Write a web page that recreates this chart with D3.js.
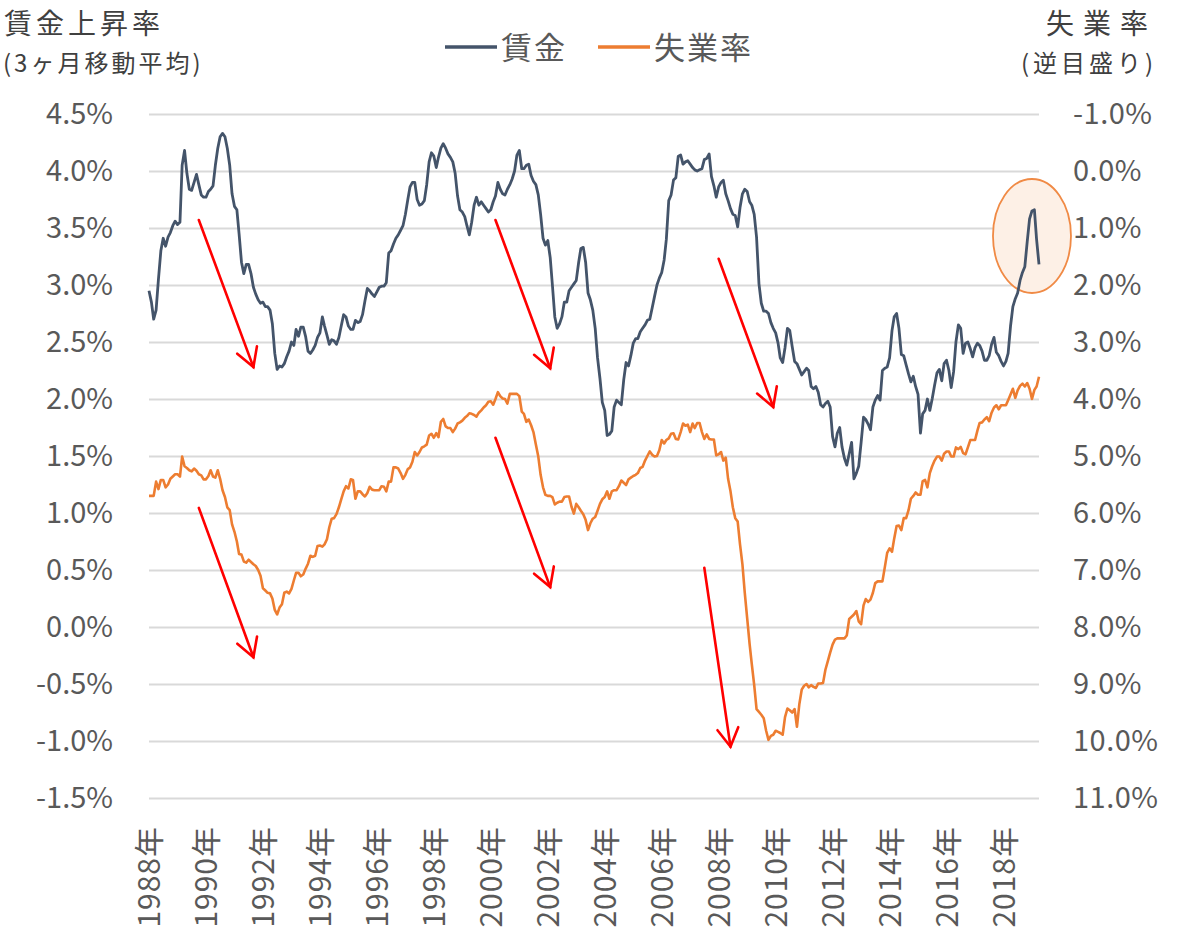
<!DOCTYPE html>
<html>
<head>
<meta charset="utf-8">
<script src="https://cdn.jsdelivr.net/npm/d3@7"></script>
<style>
  body { margin: 0; background: #fff; }
  text { font-family: "Noto Sans CJK JP", "Noto Sans", sans-serif; }
</style>
</head>
<body>
<svg id="chart" width="1200" height="943"></svg>
<script>
// monthly series, Jan 1988 .. Apr 2019
var firstMonth = "1988-01";

// wage growth, 3 month moving average (%), left axis
var wage = [
  2.95,2.85,2.70,2.78,3.05,3.30,3.41,3.34,3.42,3.46,3.52,3.56, // 1988
  3.53,3.55,4.05,4.18,3.98,3.84,3.83,3.90,3.97,3.88,3.79,3.77, // 1989
  3.77,3.82,3.84,3.87,4.05,4.20,4.30,4.33,4.30,4.20,4.05,3.80, // 1990
  3.69,3.66,3.45,3.20,3.10,3.18,3.18,3.10,2.98,2.92,2.87,2.84, // 1991
  2.85,2.81,2.81,2.78,2.66,2.40,2.26,2.29,2.28,2.31,2.37,2.42, // 1992
  2.50,2.47,2.61,2.55,2.63,2.63,2.55,2.42,2.40,2.43,2.47,2.54, // 1993
  2.58,2.72,2.64,2.56,2.48,2.52,2.51,2.48,2.54,2.64,2.74,2.72, // 1994
  2.64,2.61,2.61,2.69,2.67,2.68,2.74,2.86,2.97,2.95,2.92,2.90, // 1995
  2.94,2.98,2.99,2.99,3.02,3.28,3.30,3.36,3.41,3.44,3.48,3.52, // 1996
  3.62,3.75,3.86,3.90,3.90,3.75,3.70,3.71,3.74,3.88,4.08,4.16, // 1997
  4.13,4.03,4.12,4.20,4.24,4.20,4.15,4.12,4.08,3.98,3.78,3.66, // 1998
  3.64,3.60,3.52,3.44,3.55,3.70,3.77,3.70,3.73,3.70,3.67,3.64, // 1999
  3.66,3.73,3.78,3.90,3.84,3.80,3.79,3.84,3.88,3.93,4.00,4.14, // 2000
  4.18,4.02,4.02,4.05,4.06,3.96,3.91,3.88,3.79,3.62,3.41,3.35, // 2001
  3.39,3.24,3.00,2.72,2.62,2.66,2.72,2.85,2.85,2.95,2.98,3.01, // 2002
  3.04,3.20,3.32,3.33,3.20,2.93,2.87,2.78,2.62,2.36,2.18,1.97, // 2003
  1.90,1.68,1.69,1.72,1.93,1.99,1.97,1.95,2.17,2.32,2.29,2.38, // 2004
  2.49,2.53,2.53,2.59,2.62,2.65,2.69,2.70,2.80,2.90,3.00,3.06, // 2005
  3.11,3.22,3.40,3.74,3.79,3.92,3.94,4.13,4.14,4.06,4.08,4.09, // 2006
  4.06,4.03,4.01,4.00,4.01,4.02,4.10,4.11,4.15,3.95,3.87,3.77, // 2007
  3.86,3.90,3.92,3.80,3.74,3.67,3.62,3.61,3.51,3.68,3.80,3.84, // 2008
  3.82,3.73,3.70,3.62,3.42,3.01,2.84,2.77,2.77,2.75,2.67,2.62, // 2009
  2.58,2.49,2.36,2.32,2.45,2.62,2.60,2.46,2.33,2.31,2.26,2.21, // 2010
  2.24,2.27,2.25,2.11,2.09,2.11,2.06,1.95,1.93,1.96,1.98,1.93, // 2011
  1.67,1.58,1.70,1.75,1.58,1.48,1.42,1.52,1.62,1.30,1.35,1.41, // 2012
  1.62,1.84,1.82,1.78,1.73,1.93,1.99,2.03,1.99,2.25,2.27,2.28, // 2013
  2.36,2.60,2.72,2.75,2.62,2.39,2.38,2.30,2.22,2.15,2.20,2.11, // 2014
  2.04,1.70,1.87,1.90,2.00,1.90,2.00,2.12,2.23,2.26,2.16,2.31, // 2015
  2.34,2.25,2.10,2.24,2.50,2.65,2.62,2.40,2.49,2.50,2.44,2.37, // 2016
  2.45,2.49,2.47,2.42,2.34,2.34,2.38,2.48,2.54,2.41,2.38,2.33, // 2017
  2.29,2.33,2.40,2.64,2.81,2.88,2.93,3.04,3.11,3.16,3.38,3.58, // 2018
  3.65,3.66,3.40,3.18                                           // 2019
];

// unemployment rate (%), right axis, inverted
var unemp = [
  5.70,5.70,5.70,5.45,5.58,5.42,5.42,5.55,5.50,5.40,5.36,5.32, // 1988
  5.32,5.36,5.01,5.18,5.21,5.25,5.27,5.22,5.26,5.32,5.34,5.41, // 1989
  5.41,5.35,5.25,5.36,5.38,5.25,5.40,5.60,5.72,5.90,5.95,6.20, // 1990
  6.33,6.50,6.72,6.73,6.85,6.87,6.82,6.86,6.90,6.93,7.00,7.10, // 1991
  7.32,7.36,7.40,7.41,7.50,7.70,7.78,7.66,7.60,7.40,7.38,7.41, // 1992
  7.33,7.18,7.05,7.05,7.11,7.08,6.98,6.89,6.75,6.77,6.75,6.58, // 1993
  6.57,6.59,6.55,6.46,6.25,6.10,6.09,6.02,5.90,5.76,5.62,5.53, // 1994
  5.57,5.41,5.42,5.75,5.62,5.62,5.67,5.71,5.65,5.54,5.59,5.60, // 1995
  5.60,5.60,5.53,5.54,5.62,5.45,5.45,5.20,5.20,5.22,5.30,5.40, // 1996
  5.33,5.23,5.20,5.10,4.93,4.99,4.93,4.85,4.83,4.80,4.64,4.61, // 1997
  4.68,4.60,4.67,4.40,4.35,4.48,4.51,4.51,4.58,4.52,4.43,4.41, // 1998
  4.38,4.33,4.30,4.25,4.26,4.28,4.31,4.24,4.20,4.15,4.11,4.05, // 1999
  4.04,4.10,4.00,3.88,3.95,3.99,4.00,4.08,3.91,3.91,3.91,3.91, // 2000
  3.95,4.22,4.26,4.40,4.36,4.46,4.58,4.80,5.01,5.33,5.55,5.68, // 2001
  5.70,5.70,5.72,5.85,5.82,5.80,5.80,5.72,5.71,5.71,5.89,6.01, // 2002
  5.84,5.90,5.96,6.02,6.12,6.30,6.18,6.10,6.07,5.96,5.84,5.76, // 2003
  5.72,5.62,5.75,5.62,5.60,5.60,5.53,5.43,5.47,5.51,5.41,5.38, // 2004
  5.35,5.33,5.30,5.21,5.19,5.08,5.00,4.92,4.98,5.01,5.00,4.90, // 2005
  4.72,4.78,4.72,4.69,4.61,4.60,4.70,4.71,4.58,4.43,4.47,4.45, // 2006
  4.58,4.43,4.51,4.42,4.42,4.58,4.70,4.62,4.70,4.71,4.71,4.99, // 2007
  4.97,4.93,5.08,5.03,5.40,5.62,5.90,6.09,6.15,6.55,6.90,7.40, // 2008
  7.85,8.30,8.65,9.02,9.44,9.49,9.54,9.60,9.82,9.98,9.91,9.89, // 2009
  9.82,9.84,9.86,9.89,9.58,9.43,9.46,9.50,9.44,9.75,9.35,9.10, // 2010
  9.03,9.00,9.06,9.02,9.05,9.07,8.99,8.99,8.98,8.75,8.60,8.45, // 2011
  8.31,8.22,8.20,8.20,8.20,8.20,8.15,7.86,7.82,7.78,7.72,7.90, // 2012
  7.95,7.62,7.51,7.56,7.52,7.40,7.23,7.20,7.20,7.20,6.95,6.70, // 2013
  6.62,6.68,6.45,6.23,6.22,6.30,6.09,6.09,5.95,5.75,5.70,5.64, // 2014
  5.68,5.68,5.44,5.42,5.55,5.30,5.18,5.08,5.01,5.01,5.08,4.96, // 2015
  4.92,4.92,5.01,5.01,4.85,4.88,4.84,4.95,4.97,4.85,4.72,4.72, // 2016
  4.72,4.55,4.42,4.41,4.36,4.32,4.39,4.24,4.15,4.11,4.18,4.11, // 2017
  4.11,4.11,4.02,3.92,3.82,3.98,3.85,3.77,3.73,3.78,3.72,3.82, // 2018
  4.00,3.84,3.78,3.61                                           // 2019
];

var leftTicks = [-1.5, -1.0, -0.5, 0.0, 0.5, 1.0, 1.5, 2.0, 2.5, 3.0, 3.5, 4.0, 4.5];
var rightTicks = [-1, 0, 1, 2, 3, 4, 5, 6, 7, 8, 9, 10, 11];
var yearTicks = ["1988","1990","1992","1994","1996","1998","2000","2002","2004","2006","2008","2010","2012","2014","2016","2018"];

// red arrows: [from month, from value, to month, to value]
var wageArrows = [
  ["1989-10", 3.57, "1991-09", 2.28],
  ["2000-03", 3.57, "2002-02", 2.27],
  ["2008-01", 3.23, "2009-12", 1.93]
];
var unempArrows = [
  ["1989-10", 5.91, "1991-09", 8.53],
  ["2000-03", 4.68, "2002-02", 7.30],
  ["2007-07", 6.96, "2008-06", 10.1]
];
// highlighted recent wage jump: [month, value]
var highlight = ["2019-01", 3.43];

var svg = d3.select("#chart"),
    margin = {top: 114, right: 161, bottom: 145, left: 149},
    width = +svg.attr("width") - margin.left - margin.right,
    height = +svg.attr("height") - margin.top - margin.bottom;
var g = svg.append("g").attr("transform", "translate(" + margin.left + "," + margin.top + ")");

var parseMonth = d3.timeParse("%Y-%m");
var start = parseMonth(firstMonth);
function monthAt(i) { return d3.timeMonth.offset(start, i); }

var x = d3.scaleTime().domain([start, monthAt(wage.length - 1)]).range([0, width]);
var yL = d3.scaleLinear().domain([-1.5, 4.5]).range([height, 0]);
var yR = d3.scaleLinear().domain([11, -1]).range([height, 0]);

var textGrey = "#595959";

// gridlines
g.append("g")
  .attr("class", "grid")
  .call(d3.axisLeft(yL).tickValues(leftTicks).tickSize(-width).tickFormat(""))
  .call(function(s) { s.select(".domain").remove(); })
  .selectAll("line")
  .attr("stroke", "#d9d9d9")
  .attr("stroke-width", 2);

// left axis labels
g.append("g")
  .call(d3.axisLeft(yL).tickValues(leftTicks).tickSize(0).tickPadding(36)
    .tickFormat(function(d) { return d.toFixed(1) + "%"; }))
  .call(function(s) { s.select(".domain").remove(); })
  .selectAll("text")
  .style("font-size", "29px")
  .style("fill", textGrey)
  .style("font-family", '"Noto Sans CJK JP", sans-serif');

// right axis labels
g.append("g")
  .attr("transform", "translate(" + width + ",0)")
  .call(d3.axisRight(yR).tickValues(rightTicks).tickSize(0).tickPadding(34)
    .tickFormat(function(d) { return d.toFixed(1) + "%"; }))
  .call(function(s) { s.select(".domain").remove(); })
  .selectAll("text")
  .style("font-size", "29px")
  .style("letter-spacing", "0.5px")
  .style("fill", textGrey)
  .style("font-family", '"Noto Sans CJK JP", sans-serif');

// x axis, rotated year labels
g.append("g")
  .attr("transform", "translate(0," + height + ")")
  .call(d3.axisBottom(x).tickValues(yearTicks.map(function(y) { return parseMonth(y + "-01"); }))
    .tickSize(0).tickFormat(function(d) { return d.getFullYear() + "年"; }))
  .call(function(s) { s.select(".domain").remove(); })
  .selectAll("text")
  .attr("transform", "rotate(-90)")
  .attr("x", -28)
  .attr("y", 0)
  .attr("dy", "0.36em")
  .style("text-anchor", "end")
  .style("font-size", "30px")
  .style("letter-spacing", "1px")
  .style("fill", textGrey)
  .style("font-family", '"Noto Sans CJK JP", sans-serif');

// highlight ellipse (behind lines)
g.append("ellipse")
  .attr("cx", x(parseMonth(highlight[0])))
  .attr("cy", yL(highlight[1]))
  .attr("rx", 39)
  .attr("ry", 57)
  .style("fill", "#fdf0e6")
  .style("stroke", "#f08a45")
  .style("stroke-width", 1.8);

// lines
var wageLine = d3.line()
  .x(function(d, i) { return x(monthAt(i)); })
  .y(function(d) { return yL(d); });
var unempLine = d3.line()
  .x(function(d, i) { return x(monthAt(i)); })
  .y(function(d) { return yR(d); });

g.append("path")
  .datum(unemp)
  .attr("d", unempLine)
  .style("fill", "none")
  .style("stroke", "#ed7d31")
  .style("stroke-width", 2.6)
  .style("stroke-linejoin", "round");

g.append("path")
  .datum(wage)
  .attr("d", wageLine)
  .style("fill", "none")
  .style("stroke", "#44546a")
  .style("stroke-width", 2.8)
  .style("stroke-linejoin", "round");

// red arrows
function drawArrow(a, yScale) {
  var x1 = x(parseMonth(a[0])), y1 = yScale(a[1]),
      x2 = x(parseMonth(a[2])), y2 = yScale(a[3]);
  var ang = Math.atan2(y1 - y2, x1 - x2), len = 21, spread = Math.PI / 6;
  var arrow = g.append("g")
    .style("stroke", "#ff0000")
    .style("stroke-width", 2.6)
    .style("fill", "none")
    .style("stroke-linecap", "round");
  arrow.append("line").attr("x1", x1).attr("y1", y1).attr("x2", x2).attr("y2", y2);
  arrow.append("path")
    .attr("d", "M" + (x2 + len * Math.cos(ang - spread)) + "," + (y2 + len * Math.sin(ang - spread)) +
      "L" + x2 + "," + y2 +
      "L" + (x2 + len * Math.cos(ang + spread)) + "," + (y2 + len * Math.sin(ang + spread)));
}
wageArrows.forEach(function(a) { drawArrow(a, yL); });
unempArrows.forEach(function(a) { drawArrow(a, yR); });

// titles
svg.append("text")
  .attr("x", 4).attr("y", 34)
  .style("font-size", "28px").style("letter-spacing", "4px").style("fill", "#404040")
  .text("賃金上昇率");
svg.append("text")
  .attr("x", 3).attr("y", 72)
  .style("font-size", "24px").style("letter-spacing", "3px").style("fill", "#404040")
  .text("(3ヶ月移動平均)");
svg.append("text")
  .attr("x", 1046).attr("y", 34)
  .style("font-size", "28px").style("letter-spacing", "9px").style("fill", "#404040")
  .text("失業率");
svg.append("text")
  .attr("x", 1021).attr("y", 72)
  .style("font-size", "24px").style("letter-spacing", "4px").style("fill", "#404040")
  .text("(逆目盛り)");

// legend
var legendItems = [
  {label: "賃金", color: "#44546a", x: 445},
  {label: "失業率", color: "#ed7d31", x: 598}
];
var legend = svg.append("g");
legendItems.forEach(function(d) {
  legend.append("line")
    .attr("x1", d.x).attr("x2", d.x + 52)
    .attr("y1", 47).attr("y2", 47)
    .style("stroke", d.color)
    .style("stroke-width", 3.5);
  legend.append("text")
    .attr("x", d.x + 56).attr("y", 59)
    .style("font-size", "31px").style("letter-spacing", "2px").style("fill", textGrey)
    .text(d.label);
});
</script>
</body>
</html>
